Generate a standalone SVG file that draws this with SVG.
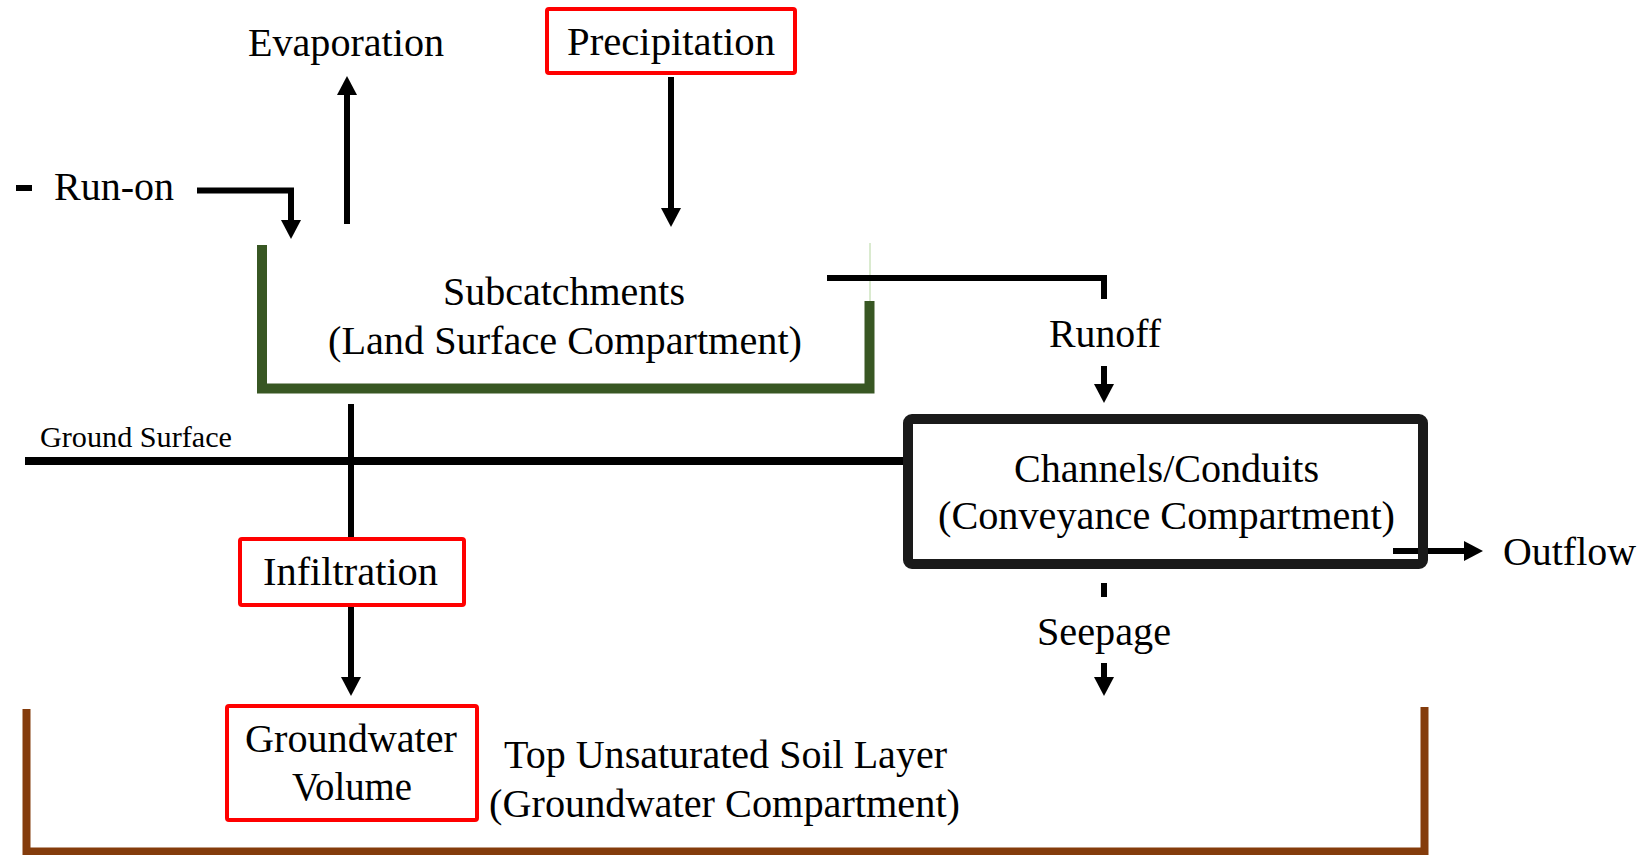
<svg xmlns="http://www.w3.org/2000/svg" width="1647" height="855" viewBox="0 0 1647 855">
<style>
text{font-family:"Liberation Serif","Times New Roman",serif;fill:#000;font-size:40px}
.sm{font-size:29px}
.box{fill:#fff;stroke:#ff0000;stroke-width:4}
.ln{fill:none;stroke:#000;stroke-width:6}
.arr{fill:none;stroke:#000;stroke-width:6;marker-end:url(#ah)}
</style>
<defs>
<marker id="ah" viewBox="0 0 19 20" refX="1" refY="10" markerWidth="19" markerHeight="20" markerUnits="userSpaceOnUse" orient="auto">
<path d="M0,0 L19,10 L0,20 z" fill="#000"/>
</marker>
</defs>
<rect width="1647" height="855" fill="#fff"/>

<g id="groundwater-compartment">
<polyline points="26.5,709 26.5,851.5 1424.5,851.5 1424.5,707" fill="none" stroke="#843c0c" stroke-width="8"/>
<text x="504" y="768" textLength="443" lengthAdjust="spacingAndGlyphs">Top Unsaturated Soil Layer</text>
<text x="489" y="817" textLength="471" lengthAdjust="spacingAndGlyphs">(Groundwater Compartment)</text>
</g>

<g id="subcatchments">
<line x1="870" y1="243" x2="870" y2="301" stroke="#b5d6a0" stroke-width="1"/>
<polyline points="262,245 262,388.5 869.5,388.5 869.5,301" fill="none" stroke="#385723" stroke-width="10"/>
<text x="443" y="305" textLength="242" lengthAdjust="spacingAndGlyphs">Subcatchments</text>
<text x="328" y="354" textLength="474" lengthAdjust="spacingAndGlyphs">(Land Surface Compartment)</text>
</g>

<g id="ground-surface">
<line x1="25" y1="461" x2="904" y2="461" stroke="#000" stroke-width="8"/>
<text class="sm" x="40" y="447" textLength="192" lengthAdjust="spacingAndGlyphs">Ground  Surface</text>
</g>

<g id="connectors">
<line class="ln" x1="16" y1="188" x2="32" y2="188" stroke-width="5"/>
<polyline class="arr" points="197,190.5 291,190.5 291,221"/>
<line class="arr" x1="347" y1="224" x2="347" y2="94"/>
<line class="arr" x1="671" y1="77" x2="671" y2="209"/>
<polyline class="ln" points="827,278 1104,278 1104,299"/>
<line class="arr" x1="1104" y1="366" x2="1104" y2="385"/>
<line class="ln" x1="351" y1="404" x2="351" y2="537"/>
<line class="arr" x1="351" y1="607" x2="351" y2="678"/>
<line class="arr" x1="1393" y1="551" x2="1465" y2="551"/>
<line class="ln" x1="1104" y1="583" x2="1104" y2="597" stroke-width="5"/>
<line class="arr" x1="1104" y1="663" x2="1104" y2="678"/>
</g>

<g id="evaporation">
<text x="248" y="56" textLength="196" lengthAdjust="spacingAndGlyphs">Evaporation</text>
</g>

<g id="precipitation">
<rect class="box" x="547" y="9" width="248" height="64" rx="2"/>
<text x="567" y="55" textLength="208" lengthAdjust="spacingAndGlyphs">Precipitation</text>
</g>

<g id="run-on">
<text x="54" y="200" textLength="120" lengthAdjust="spacingAndGlyphs">Run-on</text>
</g>

<g id="runoff">
<text x="1049" y="347" textLength="112" lengthAdjust="spacingAndGlyphs">Runoff</text>
</g>

<g id="channels">
<rect x="908" y="419" width="515" height="145" rx="4" fill="none" stroke="#1a1a1a" stroke-width="10"/>
<text x="1014" y="482" textLength="305" lengthAdjust="spacingAndGlyphs">Channels/Conduits</text>
<text x="938" y="529" textLength="457" lengthAdjust="spacingAndGlyphs">(Conveyance Compartment)</text>
</g>

<g id="outflow">
<text x="1503" y="565" textLength="133" lengthAdjust="spacingAndGlyphs">Outflow</text>
</g>

<g id="infiltration">
<rect class="box" x="240" y="539" width="224" height="66" rx="2"/>
<text x="263" y="585" textLength="175" lengthAdjust="spacingAndGlyphs">Infiltration</text>
</g>

<g id="seepage">
<text x="1037" y="645" textLength="134" lengthAdjust="spacingAndGlyphs">Seepage</text>
</g>

<g id="groundwater-volume">
<rect class="box" x="227" y="706" width="250" height="114" rx="2"/>
<text x="245" y="752" textLength="212" lengthAdjust="spacingAndGlyphs">Groundwater</text>
<text x="292" y="800" textLength="120" lengthAdjust="spacingAndGlyphs">Volume</text>
</g>
</svg>
